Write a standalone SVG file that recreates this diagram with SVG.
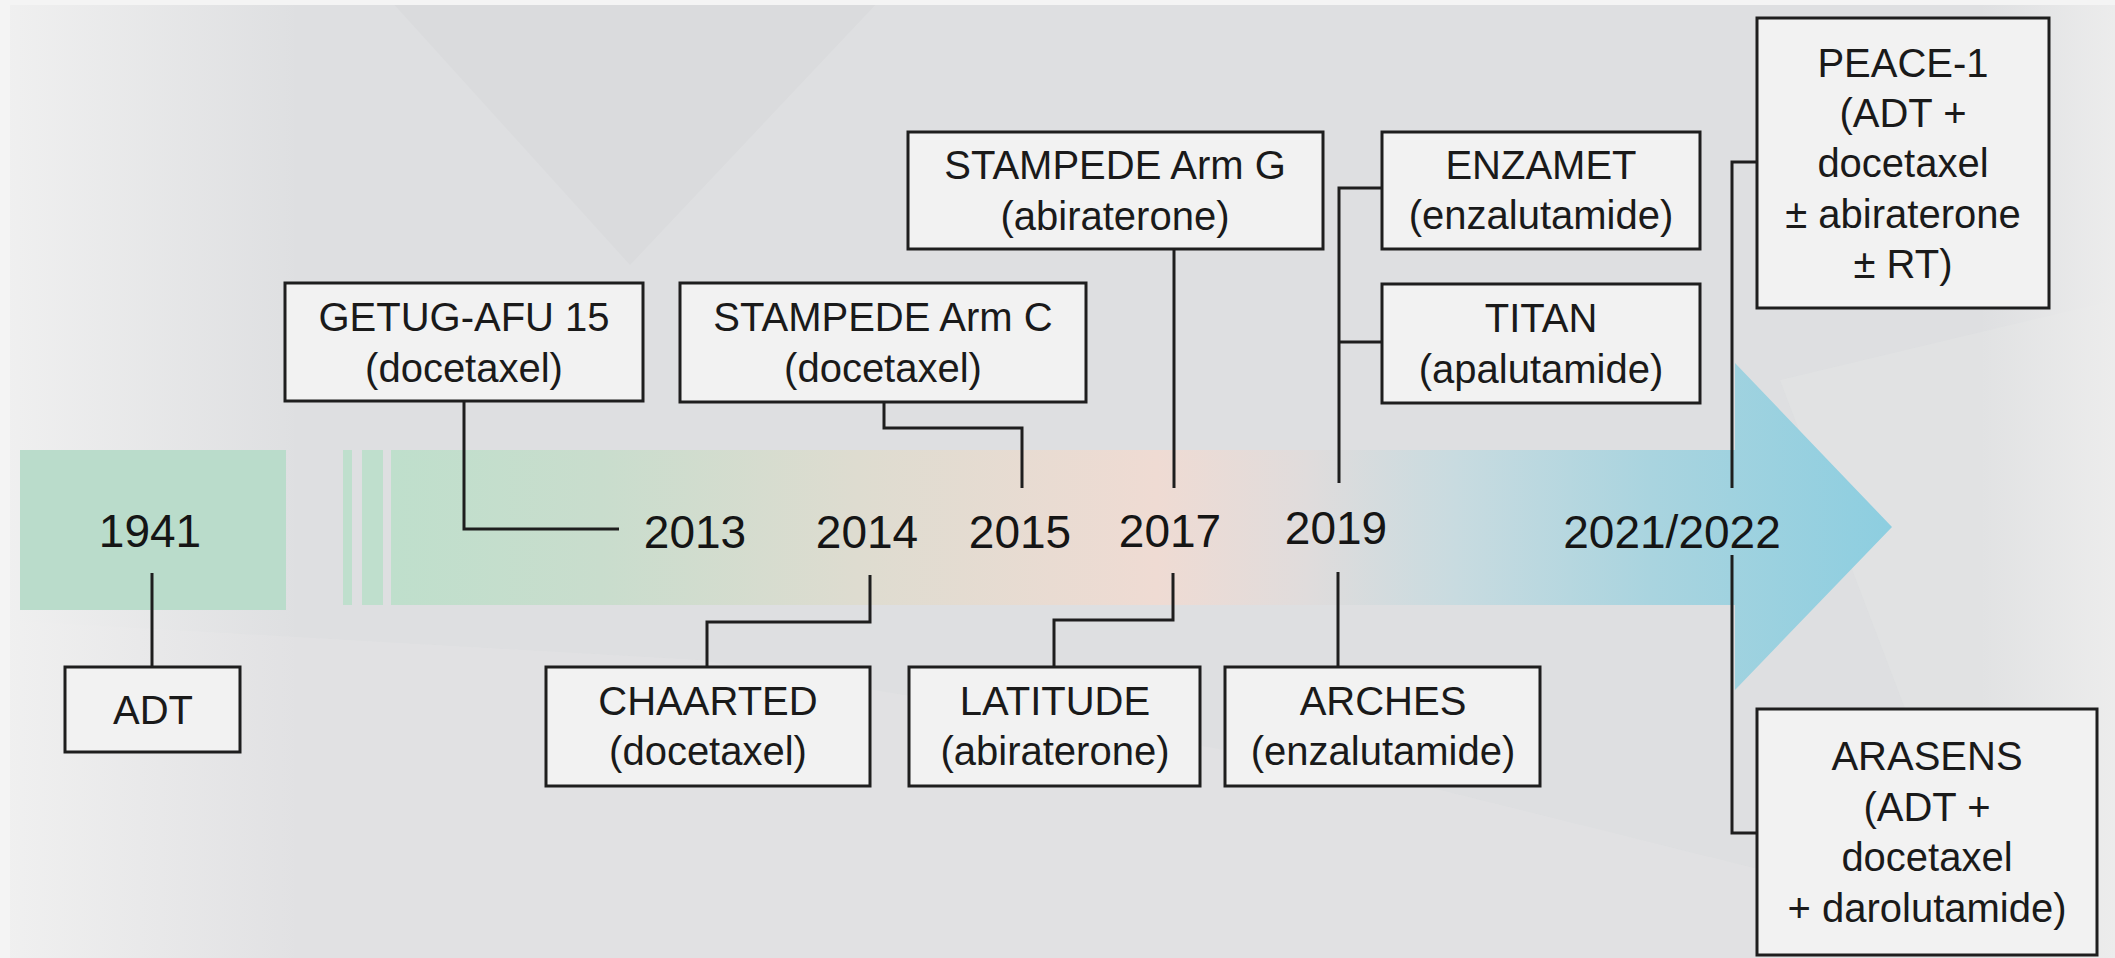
<svg xmlns="http://www.w3.org/2000/svg" width="2115" height="958" viewBox="0 0 2115 958">
<defs>
<linearGradient id="bandGrad" gradientUnits="userSpaceOnUse" x1="391" y1="0" x2="1892" y2="0">
<stop offset="0" stop-color="#bfdfcc"/>
<stop offset="0.14" stop-color="#c9ddcd"/>
<stop offset="0.31" stop-color="#dedcd0"/>
<stop offset="0.51" stop-color="#efdbd3"/>
<stop offset="0.61" stop-color="#e0dcdc"/>
<stop offset="0.71" stop-color="#c8dbe0"/>
<stop offset="0.84" stop-color="#a9d4df"/>
<stop offset="1" stop-color="#8dcee0"/>
</linearGradient>
<linearGradient id="leftFade" x1="0" y1="0" x2="1" y2="0">
<stop offset="0" stop-color="#f0f0f0" stop-opacity="1"/>
<stop offset="1" stop-color="#f0f0f0" stop-opacity="0"/>
</linearGradient>
<linearGradient id="rightFade" x1="0" y1="0" x2="1" y2="0">
<stop offset="0" stop-color="#ececec" stop-opacity="0"/>
<stop offset="1" stop-color="#ececec" stop-opacity="1"/>
</linearGradient>
<style>
.box{fill:#f2f2f2;stroke:#1e1e1e;stroke-width:3}
.t{font-family:"Liberation Sans",Arial,sans-serif;font-size:40px;fill:#1a1a1a;text-anchor:middle}
.yr{font-family:"Liberation Sans",Arial,sans-serif;font-size:46px;fill:#151515;text-anchor:middle}
.ln{fill:none;stroke:#1e1e1e;stroke-width:3}
</style>
</defs>

<g id="background">
<rect x="0" y="0" width="2115" height="958" fill="#dedfe1"/>
<polygon points="390,0 630,265 880,0" fill="#dadbdd"/>
<polygon points="0,958 0,620 700,660 1400,780 2115,958" fill="#e2e3e4" opacity="0.6"/>
<polygon points="1780,380 2115,300 2115,958 2000,958" fill="#e4e5e6" opacity="0.5"/>
<rect x="0" y="0" width="300" height="958" fill="url(#leftFade)"/>
<rect x="1980" y="0" width="135" height="958" fill="url(#rightFade)"/>
<rect x="0" y="0" width="2115" height="5" fill="#f4f4f4"/>
<rect x="0" y="0" width="10" height="958" fill="#f4f4f4"/>
</g>

<g id="timeline">
<rect x="20" y="450" width="266" height="160" fill="#badccb"/>
<rect x="343" y="450" width="9" height="155" fill="#bfdfcd"/>
<rect x="362" y="450" width="21" height="155" fill="#bfdfcd"/>
<path d="M391,450 H1735 V363 L1892,527 L1735,690 V605 H391 Z" fill="url(#bandGrad)"/>
</g>

<g id="years">
<text class="yr" x="150" y="547">1941</text>
<text class="yr" x="695" y="548">2013</text>
<text class="yr" x="867" y="548">2014</text>
<text class="yr" x="1020" y="548">2015</text>
<text class="yr" x="1170" y="547">2017</text>
<text class="yr" x="1336" y="544">2019</text>
<text class="yr" x="1672" y="548">2021/2022</text>
</g>

<g id="connectors">
<path class="ln" d="M152,573 V667"/>
<path class="ln" d="M464,401 V529 H619"/>
<path class="ln" d="M884,402 V428 H1022 V488"/>
<path class="ln" d="M1174,249 V488"/>
<path class="ln" d="M1382,188 H1339 V483"/>
<path class="ln" d="M1339,342 H1382"/>
<path class="ln" d="M1338,572 V667"/>
<path class="ln" d="M870,575 V622 H707 V667"/>
<path class="ln" d="M1173,573 V620 H1054 V667"/>
<path class="ln" d="M1757,162 H1732 V488"/>
<path class="ln" d="M1732,555 V833 H1757"/>
</g>

<g id="node-adt">
<rect class="box" x="65" y="667" width="175" height="85"/>
<text class="t" x="153" y="724">ADT</text>
</g>
<g id="node-getug">
<rect class="box" x="285" y="283" width="358" height="118"/>
<text class="t" x="464" y="331">GETUG-AFU 15</text>
<text class="t" x="464" y="382">(docetaxel)</text>
</g>
<g id="node-stampede-c">
<rect class="box" x="680" y="283" width="406" height="119"/>
<text class="t" x="883" y="331">STAMPEDE Arm C</text>
<text class="t" x="883" y="382">(docetaxel)</text>
</g>
<g id="node-stampede-g">
<rect class="box" x="908" y="132" width="415" height="117"/>
<text class="t" x="1115" y="179">STAMPEDE Arm G</text>
<text class="t" x="1115" y="230">(abiraterone)</text>
</g>
<g id="node-enzamet">
<rect class="box" x="1382" y="132" width="318" height="117"/>
<text class="t" x="1541" y="179">ENZAMET</text>
<text class="t" x="1541" y="229">(enzalutamide)</text>
</g>
<g id="node-titan">
<rect class="box" x="1382" y="284" width="318" height="119"/>
<text class="t" x="1541" y="332">TITAN</text>
<text class="t" x="1541" y="383">(apalutamide)</text>
</g>
<g id="node-peace1">
<rect class="box" x="1757" y="18" width="292" height="290"/>
<text class="t" x="1903" y="77">PEACE-1</text>
<text class="t" x="1903" y="127">(ADT +</text>
<text class="t" x="1903" y="177">docetaxel</text>
<text class="t" x="1903" y="228">± abiraterone</text>
<text class="t" x="1903" y="278">± RT)</text>
</g>
<g id="node-chaarted">
<rect class="box" x="546" y="667" width="324" height="119"/>
<text class="t" x="708" y="715">CHAARTED</text>
<text class="t" x="708" y="765">(docetaxel)</text>
</g>
<g id="node-latitude">
<rect class="box" x="909" y="667" width="291" height="119"/>
<text class="t" x="1055" y="715">LATITUDE</text>
<text class="t" x="1055" y="765">(abiraterone)</text>
</g>
<g id="node-arches">
<rect class="box" x="1225" y="667" width="315" height="119"/>
<text class="t" x="1383" y="715">ARCHES</text>
<text class="t" x="1383" y="765">(enzalutamide)</text>
</g>
<g id="node-arasens">
<rect class="box" x="1757" y="709" width="340" height="246"/>
<text class="t" x="1927" y="770">ARASENS</text>
<text class="t" x="1927" y="821">(ADT +</text>
<text class="t" x="1927" y="871">docetaxel</text>
<text class="t" x="1927" y="922">+ darolutamide)</text>
</g>
</svg>
